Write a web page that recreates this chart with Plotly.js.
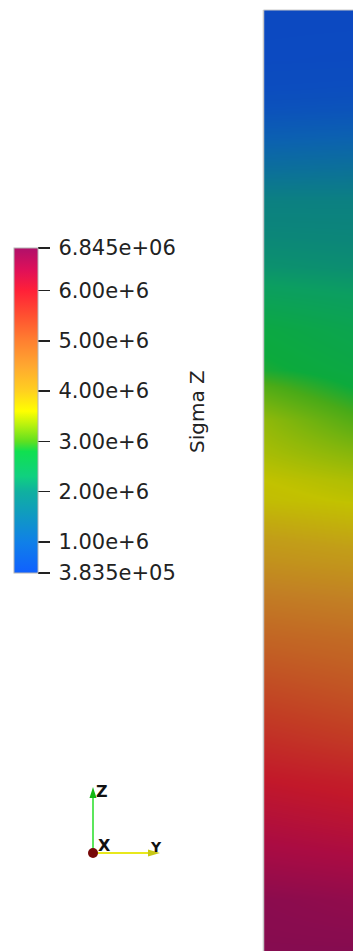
<!DOCTYPE html>
<html>
<head>
<meta charset="utf-8">
<script src="https://cdn.plot.ly/plotly-3.0.1.min.js"></script>
<style>
  html, body { margin: 0; padding: 0; background: #ffffff; }
  #chart { width: 353px; height: 951px; }
</style>
</head>
<body>
<div id="chart"></div>
<script>
// ---- data ----
// position along the column: 0 = top face, 1 = bottom of the view
const depth = [0, 0.053, 0.085, 0.106, 0.131, 0.167, 0.202, 0.237, 0.273, 0.308, 0.340, 0.383, 0.401, 0.436,
               0.471, 0.499, 0.521, 0.542, 0.584, 0.627, 0.669, 0.733, 0.776, 0.818, 0.861, 0.903, 0.946, 1.0];
// across the column: left face and right edge of the view
const across = [0, 1];
// Sigma Z along the left and right edges (Pa)
const sigmaLeft = [0.40e6, 0.42e6, 0.50e6, 0.62e6, 0.90e6, 1.35e6, 1.85e6, 2.00e6, 2.15e6, 2.45e6, 2.72e6, 2.85e6, 3.05e6, 3.35e6,
                   3.47e6, 3.60e6, 3.66e6, 3.85e6, 4.20e6, 4.60e6, 4.95e6, 5.40e6, 5.70e6, 6.00e6, 6.25e6, 6.50e6, 6.78e6, 6.845e6];
const sigmaRight = [0.40e6, 0.43e6, 0.52e6, 0.66e6, 0.95e6, 1.40e6, 1.85e6, 1.98e6, 2.10e6, 2.35e6, 2.55e6, 2.70e6, 2.80e6, 3.05e6,
                    3.30e6, 3.50e6, 3.58e6, 3.75e6, 4.10e6, 4.50e6, 4.85e6, 5.25e6, 5.55e6, 5.90e6, 6.15e6, 6.42e6, 6.70e6, 6.845e6];
const sigmaMin = 3.835e5;
const sigmaMax = 6.845e6;
const tickVals = [sigmaMin, 1e6, 2e6, 3e6, 4e6, 5e6, 6e6, sigmaMax];
const tickText = ['3.835e+05', '1.00e+6', '2.00e+6', '3.00e+6', '4.00e+6', '5.00e+6', '6.00e+6', '6.845e+06'];
const barTitle = 'Sigma Z';

// ---- colour map (rainbow, as in the legend) ----
const colorscale = [
  [0.000, '#1060ff'],
  [0.095, '#1080e8'],
  [0.250, '#10b0a0'],
  [0.297, '#10d080'],
  [0.374, '#10e050'],
  [0.405, '#60e020'],
  [0.451, '#b0f010'],
  [0.498, '#ffff00'],
  [0.560, '#ffd020'],
  [0.637, '#ffa830'],
  [0.714, '#ff8030'],
  [0.792, '#ff5030'],
  [0.869, '#ff2038'],
  [0.931, '#e01058'],
  [1.000, '#b0106a']
];

const z = depth.map((d, i) => [sigmaLeft[i], sigmaRight[i]]);

const W = 353, H = 951;
const px = v => v / W;          // window px -> paper x
const py = v => 1 - v / H;      // window px -> paper y
const font = 'DejaVu Sans, Verdana, sans-serif';
const THIN = '\u2009';          // small gap between tick mark and label

const trace = {
  type: 'heatmap',
  x: across,
  y: depth,
  z: z,
  zmin: sigmaMin,
  zmax: sigmaMax,
  zsmooth: 'best',
  colorscale: colorscale,
  hoverinfo: 'skip',
  colorbar: {
    thickness: 24, thicknessmode: 'pixels',
    len: 325, lenmode: 'pixels',
    xref: 'container', yref: 'container',
    x: 14 / W, xanchor: 'left',
    y: (H - 573) / H, yanchor: 'bottom',
    xpad: 0, ypad: 0,
    outlinewidth: 1, outlinecolor: '#b4b4b4',
    ticks: 'outside', ticklen: 12, tickwidth: 1.6, tickcolor: '#222222',
    tickvals: tickVals, ticktext: tickText.map(t => THIN + t),
    tickfont: { family: font, size: 21, color: '#222222' },
    title: { text: '' }
  }
};

const layout = {
  width: W, height: H,
  margin: { l: 0, r: 0, t: 0, b: 0, pad: 0, autoexpand: false },
  paper_bgcolor: '#ffffff', plot_bgcolor: '#ffffff',
  showlegend: false,
  xaxis: { domain: [264 / W, 1], range: [0, 1], visible: false, fixedrange: true },
  yaxis: { domain: [0, py(10)], range: [1, 0], visible: false, fixedrange: true },
  shapes: [
    // lighting: the column face is rendered darker than the legend
    { type: 'rect', xref: 'paper', yref: 'paper', x0: px(264), x1: 1, y0: 0, y1: py(10),
      fillcolor: 'rgba(0,0,0,0.24)', line: { width: 0 }, layer: 'above' },
    // silhouette edges
    { type: 'line', xref: 'paper', yref: 'paper', x0: px(263.5), x1: px(263.5), y0: 0, y1: py(10),
      line: { color: '#c8c8c8', width: 1.5 }, layer: 'above' },
    { type: 'line', xref: 'paper', yref: 'paper', x0: px(263.5), x1: 1, y0: py(10), y1: py(10),
      line: { color: '#c8c8c8', width: 1 }, layer: 'above' },
    // orientation triad
    { type: 'line', xref: 'paper', yref: 'paper', x0: px(93), x1: px(93), y0: py(853), y1: py(796),
      line: { color: '#5ce65c', width: 2 } },
    { type: 'path', xref: 'paper', yref: 'paper',
      path: 'M ' + px(89.5) + ' ' + py(798) + ' L ' + px(96.5) + ' ' + py(798) + ' L ' + px(93) + ' ' + py(787) + ' Z',
      fillcolor: '#14b814', line: { width: 0 } },
    { type: 'line', xref: 'paper', yref: 'paper', x0: px(93), x1: px(150), y0: py(853), y1: py(853),
      line: { color: '#e8e81c', width: 2 } },
    { type: 'path', xref: 'paper', yref: 'paper',
      path: 'M ' + px(148) + ' ' + py(849.5) + ' L ' + px(148) + ' ' + py(856.5) + ' L ' + px(160) + ' ' + py(853) + ' Z',
      fillcolor: '#c8c814', line: { width: 0 } },
    { type: 'circle', xref: 'paper', yref: 'paper', x0: px(88), x1: px(98), y0: py(858), y1: py(848),
      fillcolor: '#760808', line: { width: 0 } }
  ],
  annotations: [
    { xref: 'paper', yref: 'paper', x: px(197), y: py(412), text: barTitle, showarrow: false, textangle: -90,
      font: { family: font, size: 20, color: '#222222' }, xanchor: 'center', yanchor: 'middle' },
    { xref: 'paper', yref: 'paper', x: px(102), y: py(791), text: '<b>Z</b>', showarrow: false,
      font: { family: font, size: 16, color: '#111111' }, xanchor: 'center', yanchor: 'middle' },
    { xref: 'paper', yref: 'paper', x: px(105), y: py(845), text: '<b>X</b>', showarrow: false,
      font: { family: font, size: 16, color: '#111111' }, xanchor: 'center', yanchor: 'middle' },
    { xref: 'paper', yref: 'paper', x: px(156), y: py(847), text: '<b>Y</b>', showarrow: false,
      font: { family: font, size: 14, color: '#111111' }, xanchor: 'center', yanchor: 'middle' }
  ]
};

Plotly.newPlot('chart', [trace], layout, { displayModeBar: false, staticPlot: true });
</script>
</body>
</html>
